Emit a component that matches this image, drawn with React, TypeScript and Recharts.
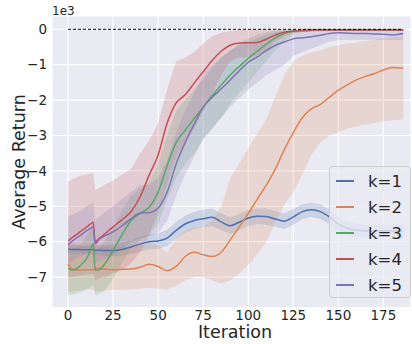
import { ComposedChart, Area, Line, XAxis, YAxis, CartesianGrid, ReferenceLine, Legend } from "recharts"

// returns are in units of 1e3
const ITER = [0, 2, 4, 6, 8, 10, 12, 14, 15, 17, 20, 25, 30, 35, 40, 45, 50, 55, 60, 65, 70, 75, 80, 85, 90, 95, 100, 105, 110, 115, 120, 125, 130, 135, 140, 145, 150, 155, 160, 165, 170, 175, 180, 186]

const K1_MEAN = [-6.21, -6.22, -6.22, -6.22, -6.23, -6.23, -6.23, -6.23, -6.24, -6.24, -6.25, -6.25, -6.22, -6.15, -6.07, -6.0, -5.98, -5.9, -5.68, -5.5, -5.4, -5.35, -5.31, -5.44, -5.55, -5.45, -5.33, -5.28, -5.29, -5.36, -5.42, -5.3, -5.15, -5.1, -5.15, -5.3, -5.5, -5.62, -5.67, -5.7, -5.7, -5.7, -5.7, -5.7]
const K1_LO = [-6.33, -6.34, -6.34, -6.35, -6.36, -6.36, -6.36, -6.36, -6.37, -6.38, -6.4, -6.42, -6.4, -6.35, -6.28, -6.22, -6.2, -6.13, -5.92, -5.74, -5.64, -5.6, -5.56, -5.68, -5.78, -5.68, -5.56, -5.5, -5.52, -5.58, -5.64, -5.52, -5.36, -5.3, -5.36, -5.5, -5.7, -5.82, -5.86, -5.88, -5.88, -5.88, -5.88, -5.88]
const K1_HI = [-6.08, -6.09, -6.09, -6.09, -6.1, -6.1, -6.1, -6.1, -6.11, -6.11, -6.1, -6.08, -6.04, -5.96, -5.86, -5.78, -5.76, -5.67, -5.44, -5.26, -5.16, -5.1, -5.06, -5.2, -5.32, -5.22, -5.1, -5.06, -5.06, -5.14, -5.2, -5.08, -4.94, -4.9, -4.94, -5.1, -5.3, -5.42, -5.48, -5.52, -5.52, -5.52, -5.52, -5.52]

const K2_MEAN = [-6.63, -6.76, -6.8, -6.8, -6.8, -6.79, -6.79, -6.79, -6.76, -6.75, -6.78, -6.79, -6.78, -6.77, -6.72, -6.64, -6.7, -6.82, -6.7, -6.42, -6.3, -6.37, -6.42, -6.3, -5.95, -5.58, -5.2, -4.8, -4.4, -3.95, -3.4, -2.92, -2.5, -2.25, -2.12, -1.92, -1.72, -1.57, -1.43, -1.33, -1.25, -1.15, -1.08, -1.1]
const K2_LO = [-7.4, -7.42, -7.4, -7.38, -7.36, -7.35, -7.35, -7.35, -7.4, -7.4, -7.38, -7.36, -7.36, -7.35, -7.33, -7.3, -7.33, -7.35, -7.25, -7.1, -7.0, -7.0, -7.1, -7.18, -7.1, -6.9, -6.65, -6.35, -6.0, -5.45, -4.95, -4.6, -4.1, -3.55, -3.2, -3.0, -2.9, -2.8, -2.75, -2.7, -2.65, -2.6, -2.57, -2.55]
const K2_HI = [-6.0, -6.05, -6.1, -6.12, -6.12, -6.12, -6.12, -6.12, -6.1, -6.1, -6.12, -6.15, -6.15, -6.15, -6.12, -6.05, -6.1, -6.3, -5.9, -5.7, -5.6, -5.6, -5.4, -5.0, -4.2, -3.8, -3.35, -2.95, -2.55, -1.9, -1.3, -0.9, -0.75, -0.65, -0.59, -0.5, -0.45, -0.4, -0.37, -0.33, -0.3, -0.25, -0.23, -0.2]

const K3_MEAN = [-6.75, -6.8, -6.78, -6.72, -6.62, -6.5, -6.3, -6.05, -6.8, -6.8, -6.65, -6.25, -5.8, -5.4, -5.2, -5.03, -4.6, -3.85, -3.2, -2.85, -2.52, -2.2, -1.87, -1.57, -1.29, -1.05, -0.82, -0.62, -0.42, -0.24, -0.12, -0.05, -0.03, -0.02, -0.02, -0.02, -0.02, -0.02, -0.02, -0.02, -0.02, -0.02, -0.02, -0.02]
const K3_LO = [-7.5, -7.5, -7.48, -7.45, -7.4, -7.35, -7.3, -7.2, -7.5, -7.48, -7.4, -7.05, -6.6, -6.2, -5.95, -5.8, -5.5, -4.8, -4.2, -3.8, -3.5, -3.1, -2.8, -2.5, -2.1, -1.8, -1.5, -1.2, -0.9, -0.6, -0.35, -0.15, -0.08, -0.06, -0.05, -0.05, -0.05, -0.05, -0.05, -0.05, -0.05, -0.05, -0.05, -0.05]
const K3_HI = [-6.15, -6.2, -6.18, -6.1, -6.0, -5.85, -5.7, -5.5, -6.2, -6.2, -6.0, -5.6, -5.1, -4.7, -4.5, -4.3, -3.8, -3.0, -2.3, -2.0, -1.7, -1.4, -1.1, -0.8, -0.6, -0.4, -0.25, -0.15, -0.08, -0.04, -0.02, 0, 0, 0, 0, 0, 0, 0, 0, 0, 0, 0, 0, 0]

const K4_MEAN = [-5.98, -5.9, -5.82, -5.75, -5.67, -5.6, -5.52, -5.45, -6.0, -5.92, -5.8, -5.58, -5.38, -5.15, -4.73, -4.12, -3.55, -2.65, -2.08, -1.85, -1.52, -1.2, -0.88, -0.62, -0.45, -0.39, -0.38, -0.37, -0.28, -0.16, -0.08, -0.05, -0.04, -0.03, -0.02, -0.02, -0.02, -0.02, -0.02, -0.02, -0.02, -0.02, -0.02, -0.02]
const K4_LO = [-7.0, -7.0, -6.98, -6.96, -6.95, -6.93, -6.92, -6.9, -7.1, -7.05, -7.0, -6.9, -6.8, -6.6, -6.3, -5.8, -5.2, -4.4, -3.6, -3.2, -2.8, -2.3, -1.8, -1.3, -0.9, -0.8, -0.8, -0.75, -0.6, -0.35, -0.2, -0.1, -0.06, -0.05, -0.05, -0.05, -0.05, -0.05, -0.05, -0.05, -0.05, -0.05, -0.05, -0.05]
const K4_HI = [-4.3, -4.25, -4.2, -4.15, -4.12, -4.1, -4.08, -4.05, -4.55, -4.5, -4.4, -4.27, -4.1, -3.95, -3.5, -3.15, -2.65, -1.7, -0.9, -0.8, -0.65, -0.4, -0.2, -0.1, -0.05, -0.02, 0, 0, 0, 0, 0, 0, 0, 0, 0, 0, 0, 0, 0, 0, 0, 0, 0, 0]

const K5_MEAN = [-6.09, -6.0, -5.92, -5.85, -5.78, -5.7, -5.64, -5.58, -6.07, -5.95, -5.85, -5.72, -5.55, -5.35, -5.19, -5.18, -5.05, -4.6, -3.8, -3.2, -2.68, -2.2, -1.92, -1.68, -1.43, -1.17, -0.93, -0.78, -0.6, -0.45, -0.36, -0.27, -0.24, -0.21, -0.17, -0.12, -0.1, -0.11, -0.12, -0.12, -0.13, -0.14, -0.16, -0.12]
const K5_LO = [-6.6, -6.55, -6.5, -6.45, -6.4, -6.35, -6.3, -6.2, -6.6, -6.55, -6.5, -6.4, -6.2, -6.0, -5.9, -5.85, -5.75, -5.4, -4.7, -4.1, -3.6, -3.1, -2.8, -2.5, -2.2, -1.95, -1.7, -1.5, -1.3, -1.15, -1.0, -0.75, -0.65, -0.55, -0.45, -0.35, -0.3, -0.3, -0.3, -0.3, -0.3, -0.3, -0.3, -0.3]
const K5_HI = [-5.3, -5.25, -5.2, -5.15, -5.1, -5.0, -4.95, -4.9, -5.4, -5.3, -5.2, -5.0, -4.8, -4.6, -4.4, -4.4, -4.2, -3.7, -2.9, -2.3, -1.8, -1.3, -1.0, -0.8, -0.6, -0.45, -0.35, -0.25, -0.15, -0.08, -0.05, -0.03, -0.02, 0, 0, 0, 0, 0, 0, 0, 0, 0, 0, 0]

const X_TICKS = [0, 25, 50, 75, 100, 125, 150, 175]
const Y_TICKS = [-7, -6, -5, -4, -3, -2, -1, 0]

const SERIES = [
  { id: "1", name: "k=1", color: "#4C72B0", mean: K1_MEAN, lo: K1_LO, hi: K1_HI },
  { id: "2", name: "k=2", color: "#DD8452", mean: K2_MEAN, lo: K2_LO, hi: K2_HI },
  { id: "3", name: "k=3", color: "#55A868", mean: K3_MEAN, lo: K3_LO, hi: K3_HI },
  { id: "4", name: "k=4", color: "#C44E52", mean: K4_MEAN, lo: K4_LO, hi: K4_HI },
  { id: "5", name: "k=5", color: "#8172B3", mean: K5_MEAN, lo: K5_LO, hi: K5_HI },
]

const FONT = "'DejaVu Sans', sans-serif"
const TEXT = "#262626"

const rows = ITER.map((it, i) => {
  const row: Record<string, any> = { it }
  SERIES.forEach(s => {
    row["m" + s.id] = s.mean[i]
    row["r" + s.id] = [s.lo[i], s.hi[i]]
  })
  return row
})

const fmtY = (v: number) => (v === 0 ? "0" : "\u2212" + Math.abs(v))

function LegendBox() {
  return <div style={{
    width: 82, height: 132, boxSizing: "border-box", background: "rgba(234,234,242,0.8)",
    border: "1px solid #cccccc", borderRadius: 4, fontFamily: FONT, fontSize: 16.5, color: TEXT,
    paddingTop: 1,
  }}>
    {SERIES.map(s => (
      <div key={s.id} style={{ display: "flex", alignItems: "center", height: 26 }}>
        <div style={{ width: 18, height: 1.5, background: s.color, marginLeft: 6, marginRight: 14 }} />
        <span>{s.name}</span>
      </div>
    ))}
  </div>
}

export default function App() {
  return <div style={{ position: "absolute", left: 0, top: 0, width: 412, height: 344, background: "#fff" }}>
    <ComposedChart width={412} height={344} data={rows} margin={{ top: 16, right: 1, bottom: 0, left: 0 }}>
      <CartesianGrid fill="#EAEAF2" stroke="#ffffff" strokeWidth={1.2} />
      <XAxis
        dataKey="it" type="number" domain={[-8.9, 190.3]} ticks={X_TICKS} allowDataOverflow
        axisLine={false} tickLine={false} tickSize={0} tickMargin={3} height={36.5}
        tick={{ fontSize: 13.5, fill: TEXT, fontFamily: FONT }}
        label={{ content: () => <text x={235} y={338} textAnchor="middle" fontSize={17.5} fill={TEXT} fontFamily={FONT}>Iteration</text> }}
      />
      <YAxis
        type="number" domain={[-7.86, 0.376]} ticks={Y_TICKS} allowDataOverflow
        axisLine={false} tickLine={false} tickSize={0} tickMargin={5} width={52}
        tickFormatter={fmtY}
        tick={{ fontSize: 13.5, fill: TEXT, fontFamily: FONT }}
        label={{ content: () => <g>
          <text x={19} y={162} transform="rotate(-90 19 162)" textAnchor="middle" dominantBaseline="central" fontSize={17.5} fill={TEXT} fontFamily={FONT}>Average Return</text>
          <text x={52} y={15} fontSize={12} fill={TEXT} fontFamily={FONT}>1e3</text>
        </g> }}
      />
      {SERIES.flatMap(s => [
        <Area key={"a" + s.id} dataKey={"r" + s.id} type="linear" stroke="none" fill={s.color} fillOpacity={0.2} isAnimationActive={false} activeDot={false} />,
        <Line key={"l" + s.id} dataKey={"m" + s.id} type="monotone" stroke={s.color} strokeWidth={1.5} dot={false} activeDot={false} isAnimationActive={false} />,
      ])}
      <ReferenceLine segment={[{ x: 0, y: 0 }, { x: 186, y: 0 }]} stroke="#000" strokeWidth={1} strokeDasharray="3 2" />
      <Legend layout="vertical" align="center" verticalAlign="middle"
        wrapperStyle={{ left: 329, top: 166, width: 82, height: 132 }}
        content={() => <LegendBox />} />
    </ComposedChart>
  </div>
}
